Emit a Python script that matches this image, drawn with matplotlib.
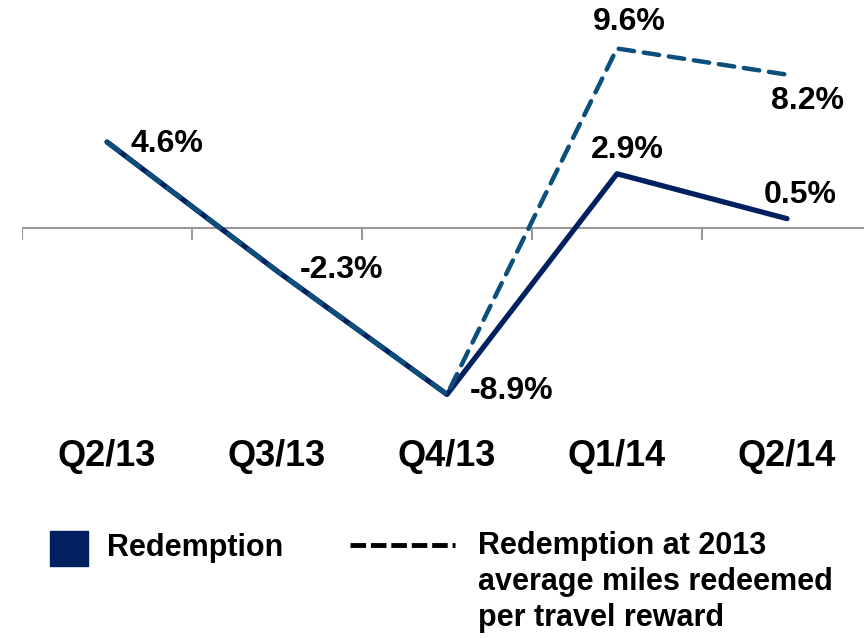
import matplotlib.pyplot as plt
from matplotlib.patches import Rectangle
from matplotlib.lines import Line2D

plt.rcParams['font.family'] = ['Liberation Sans', 'DejaVu Sans']
plt.rcParams['font.weight'] = 'bold'

quarters = ['Q2/13', 'Q3/13', 'Q4/13', 'Q1/14', 'Q2/14']
redemption = [4.6, -2.3, -8.9, 2.9, 0.5]
redemption_2013 = [4.6, -2.3, -8.9, 9.6, 8.2]

NAVY = '#002060'
STEEL = '#0b4f7c'

W, H = 864, 638
fig = plt.figure(figsize=(W / 100, H / 100), dpi=100)

# axes spans 5 categories of 170 px starting at x=22; zero line at y=228
px_per_unit = 18.7
top_px, bot_px = 30, 430
ax = fig.add_axes([22 / W, 1 - bot_px / H, 850 / W, (bot_px - top_px) / H])
ax.set_xlim(-0.5, 4.5)
ax.set_ylim((228 - bot_px) / px_per_unit, (228 - top_px) / px_per_unit)
ax.axis('off')

x = list(range(len(quarters)))

# horizontal axis with boundary ticks
ax.axhline(0, color='#999999', lw=1.5, zorder=1)
for b in [-0.5, 0.5, 1.5, 2.5, 3.5]:
    ax.plot([b, b], [0, -0.6], color='#999999', lw=1.5, zorder=1)

ax.plot(x, redemption, color=NAVY, lw=3.8, solid_capstyle='round', zorder=2)
ax.plot(x, redemption_2013, color=STEEL, lw=3.2, dashes=(3.5, 2.2),
        dash_capstyle='round', zorder=3)

lab_kw = dict(fontsize=23, fontweight='bold', color='black', ha='center', va='center')
ax.text(0.35, 4.5, '4.6%', **lab_kw)
ax.text(1.38, -2.25, '-2.3%', **lab_kw)
ax.text(2.38, -8.7, '-8.9%', **lab_kw)
ax.text(3.06, 4.15, '2.9%', **lab_kw)
ax.text(4.08, 1.75, '0.5%', **lab_kw)
ax.text(3.07, 11.0, '9.6%', **lab_kw)
ax.text(4.12, 6.8, '8.2%', **lab_kw)

for i, q in enumerate(quarters):
    ax.text(i, -12.2, q, fontsize=26, fontweight='bold', ha='center', va='center',
            clip_on=False)

# legend drawn in figure pixel space
fig.patches.append(Rectangle((50 / W, 1 - 566 / H), 38 / W, 35 / H,
                             transform=fig.transFigure, color=NAVY))
fig.text(107 / W, 1 - 548 / H, 'Redemption', fontsize=22, fontweight='bold', va='center')
fig.lines.append(Line2D([350 / W, 455 / W], [1 - 545 / H, 1 - 545 / H],
                        transform=fig.transFigure, color='black', lw=3.5,
                        dashes=(3.2, 1.0)))
fig.text(478 / W, 1 - 531 / H,
         'Redemption at 2013\naverage miles redeemed\nper travel reward',
         fontsize=22, fontweight='bold', va='top', linespacing=1.27)

fig.savefig('out.png', dpi=100)
